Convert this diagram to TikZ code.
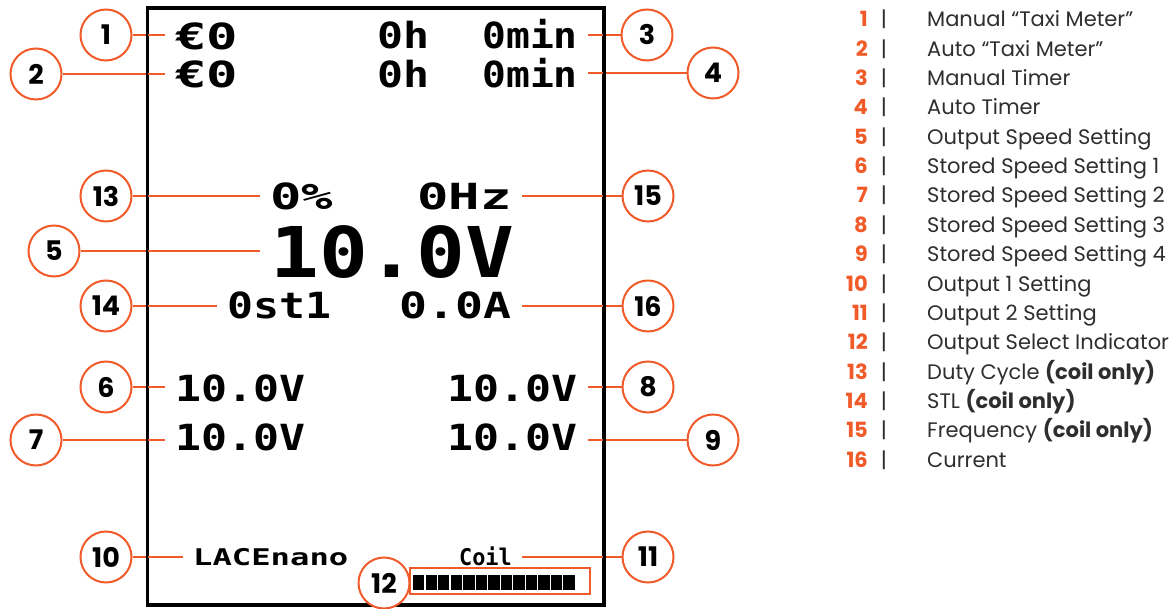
\documentclass[tikz,border=0pt]{standalone}
\usepackage{fontspec}
\usepackage{graphicx}
\setmainfont{Poppins}
\newfontfamily\lcdfont{DejaVu Sans Mono}
\usetikzlibrary{positioning}
\definecolor{callorange}{HTML}{F15A29}
\definecolor{legendgray}{HTML}{2E2E2E}
\newcommand{\wide}[2]{\scalebox{#1}[1]{#2}}

\tikzset{
  callout/.style={circle, draw=callorange, line width=2pt, fill=white, minimum size=51pt, inner sep=0pt, font=\fontsize{27}{27}\selectfont\bfseries},
  lead/.style={draw=callorange, line width=2pt},
  lcd/.style={font=\lcdfont\bfseries\fontsize{36}{36}\selectfont, inner xsep=10pt, inner ysep=0pt},
  lcdbig/.style={font=\lcdfont\bfseries\fontsize{70}{70}\selectfont, inner xsep=10pt, inner ysep=0pt},
  lcdsmall/.style={font=\lcdfont\bfseries\fontsize{23}{23}\selectfont, inner xsep=10pt, inner ysep=0pt},
  legnum/.style={anchor=base east, text=callorange, font=\fontsize{21}{21}\selectfont\bfseries, inner sep=0pt},
  legbar/.style={anchor=base, text=legendgray, font=\fontsize{21}{21}\selectfont, inner sep=0pt},
  legtxt/.style={anchor=base west, text=legendgray, font=\fontsize{21}{21}\selectfont, inner sep=0pt},
}

\begin{document}
\begin{tikzpicture}[x=1pt,y=-1pt]
    \useasboundingbox (0,0) rectangle (1174,609);
    % display
    \node[draw=black, line width=2.5pt, minimum width=455pt, minimum height=595pt, inner sep=0pt] (screen) at (375.5,306.5) {};
    \node[lcd, anchor=base west] (t1) at (165,50) {\wide{1.45}{€0}};
    \node[lcd, anchor=base west] (t2) at (165,88) {\wide{1.45}{€0}};
    \node[lcd, anchor=base east] (h1) at (440,49) {\wide{1.2}{0h}};
    \node[lcd, anchor=base east] (h2) at (440,88) {\wide{1.2}{0h}};
    \node[lcd, anchor=base east] (t3) at (588,49) {\wide{1.1}{0min}};
    \node[lcd, anchor=base east] (t4) at (588,88) {\wide{1.1}{0min}};
    \node[lcd, anchor=base west] (t13) at (260,210) {\wide{1.45}{0\%}};
    \node[lcd, anchor=base east] (t15) at (522,210) {\wide{1.45}{0Hz}};
    \node[lcdbig, anchor=base west] (t5) at (260,278) {\wide{1.16}{10.0V}};
    \node[lcd, anchor=base west] (t14) at (217,318) {\wide{1.2}{0st1}};
    \node[lcd, anchor=base east] (t16) at (522,318) {\wide{1.29}{0.0A}};
    \node[lcd, anchor=base west] (t6) at (165,401) {\wide{1.2}{10.0V}};
    \node[lcd, anchor=base west] (t7) at (165,450) {\wide{1.2}{10.0V}};
    \node[lcd, anchor=base east] (t8) at (588,401) {\wide{1.2}{10.0V}};
    \node[lcd, anchor=base east] (t9) at (588,450) {\wide{1.2}{10.0V}};
    \node[lcdsmall, anchor=base west] (t10) at (183,565) {\wide{1.4}{LACEnano}};
    \node[lcdsmall, anchor=base east] (t11) at (522,565) {\wide{0.95}{Coil}};
    % output select bar
    \node[draw=callorange, line width=2pt, minimum width=180pt, minimum height=26pt, inner sep=0pt] (t12) at (500,581) {};
    \foreach \i in {0,...,12}
        \fill[black] (413+\i*12.54,575) rectangle ++(11.4,15);
    % callouts
    \node[callout] (c1) at (106,35) {1};
    \node[callout] (c2) at (36,74) {2};
    \node[callout] (c3) at (647,35) {3};
    \node[callout] (c4) at (713,73) {4};
    \node[callout] (c13) at (106,196) {13};
    \node[callout] (c5) at (54,251) {5};
    \node[callout] (c14) at (106,306) {14};
    \node[callout] (c15) at (648,196) {15};
    \node[callout] (c16) at (648,306) {16};
    \node[callout] (c6) at (106,387) {6};
    \node[callout] (c7) at (36,440) {7};
    \node[callout] (c8) at (648,387) {8};
    \node[callout] (c9) at (713,440) {9};
    \node[callout] (c10) at (106,557) {10};
    \node[callout] (c11) at (648,557) {11};
    \draw[lead] (c1) -- (c1 -| t1.west);
    \draw[lead] (c2) -- (c2 -| t2.west);
    \draw[lead] (c3) -- (c3 -| t3.east);
    \draw[lead] (c4) -- (c4 -| t4.east);
    \draw[lead] (c13) -- (c13 -| t13.west);
    \draw[lead] (c5) -- (c5 -| t5.west);
    \draw[lead] (c14) -- (c14 -| t14.west);
    \draw[lead] (c15) -- (c15 -| t15.east);
    \draw[lead] (c16) -- (c16 -| t16.east);
    \draw[lead] (c6) -- (c6 -| t6.west);
    \draw[lead] (c7) -- (c7 -| t7.west);
    \draw[lead] (c8) -- (c8 -| t8.east);
    \draw[lead] (c9) -- (c9 -| t9.east);
    \draw[lead] (c10) -- (c10 -| t10.west);
    \draw[lead] (c11) -- (c11 -| t11.east);
    \draw[black, line width=2.5pt] (screen.north west) rectangle (screen.south east);
    \node[callout] (c12) at (384,583) {12};
    % legend
    \node[legnum] (k1) at (868,27) {1};
    \node[legbar] (b1) at (884,27) {|};
    \node[legtxt] (d1) at (927,27) {Manual “Taxi Meter”};
    \node[legnum] (k2) at (868,56.3) {2};
    \node[legbar] (b2) at (884,56.3) {|};
    \node[legtxt] (d2) at (927,56.3) {Auto “Taxi Meter”};
    \node[legnum] (k3) at (868,85.7) {3};
    \node[legbar] (b3) at (884,85.7) {|};
    \node[legtxt] (d3) at (927,85.7) {Manual Timer};
    \node[legnum] (k4) at (868,115) {4};
    \node[legbar] (b4) at (884,115) {|};
    \node[legtxt] (d4) at (927,115) {Auto Timer};
    \node[legnum] (k5) at (868,144.3) {5};
    \node[legbar] (b5) at (884,144.3) {|};
    \node[legtxt] (d5) at (927,144.3) {Output Speed Setting};
    \node[legnum] (k6) at (868,173.7) {6};
    \node[legbar] (b6) at (884,173.7) {|};
    \node[legtxt] (d6) at (927,173.7) {Stored Speed Setting 1};
    \node[legnum] (k7) at (868,203) {7};
    \node[legbar] (b7) at (884,203) {|};
    \node[legtxt] (d7) at (927,203) {Stored Speed Setting 2};
    \node[legnum] (k8) at (868,232.3) {8};
    \node[legbar] (b8) at (884,232.3) {|};
    \node[legtxt] (d8) at (927,232.3) {Stored Speed Setting 3};
    \node[legnum] (k9) at (868,261.7) {9};
    \node[legbar] (b9) at (884,261.7) {|};
    \node[legtxt] (d9) at (927,261.7) {Stored Speed Setting 4};
    \node[legnum] (k10) at (868,291) {10};
    \node[legbar] (b10) at (884,291) {|};
    \node[legtxt] (d10) at (927,291) {Output 1 Setting};
    \node[legnum] (k11) at (868,320.3) {11};
    \node[legbar] (b11) at (884,320.3) {|};
    \node[legtxt] (d11) at (927,320.3) {Output 2 Setting};
    \node[legnum] (k12) at (868,349.7) {12};
    \node[legbar] (b12) at (884,349.7) {|};
    \node[legtxt] (d12) at (927,349.7) {Output Select Indicator};
    \node[legnum] (k13) at (868,379) {13};
    \node[legbar] (b13) at (884,379) {|};
    \node[legtxt] (d13) at (927,379) {Duty Cycle \textbf{(coil only)}};
    \node[legnum] (k14) at (868,408.3) {14};
    \node[legbar] (b14) at (884,408.3) {|};
    \node[legtxt] (d14) at (927,408.3) {STL \textbf{(coil only)}};
    \node[legnum] (k15) at (868,437.7) {15};
    \node[legbar] (b15) at (884,437.7) {|};
    \node[legtxt] (d15) at (927,437.7) {Frequency \textbf{(coil only)}};
    \node[legnum] (k16) at (868,467) {16};
    \node[legbar] (b16) at (884,467) {|};
    \node[legtxt] (d16) at (927,467) {Current};
\end{tikzpicture}
\end{document}
